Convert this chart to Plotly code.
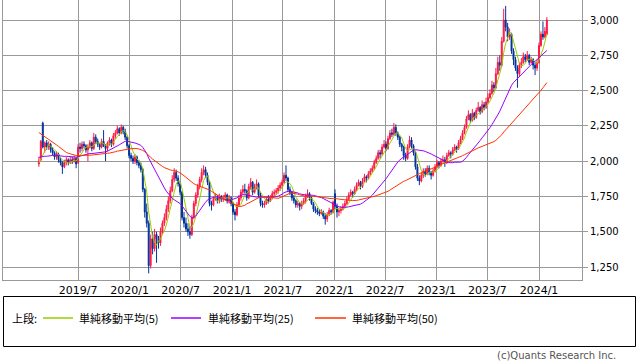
import numpy as np
import pandas as pd
import plotly.graph_objects as go

# ---------------- data (weekly OHLC) ----------------
start_date = "2019-02-11"

opens = [
    1980, 2010, 2270, 2100, 2130, 2100, 2120, 2080, 2060, 2030,
    2050, 2010, 1990, 1960, 1990, 2010, 1990, 2010, 2000, 2020,
    1990, 2100, 2090, 2120, 2110, 2080, 2100, 2130, 2090, 2170,
    2140, 2120, 2100, 2140, 2110, 2090, 2130, 2150, 2120, 2180,
    2200, 2230, 2200, 2240, 2210, 2170, 2110, 2040, 2020, 2000,
    2030, 1990, 1970, 1940, 1800, 1640, 1560, 1260, 1450, 1380,
    1480, 1450, 1420, 1500, 1560, 1600, 1660, 1720, 1790, 1870,
    1920, 1880, 1840, 1780, 1600, 1560, 1520, 1500, 1480, 1600,
    1700, 1760, 1820, 1870, 1920, 1940, 1900, 1850, 1700, 1690,
    1730, 1740, 1720, 1750, 1730, 1740, 1760, 1720, 1740, 1700,
    1640, 1620, 1690, 1740, 1780, 1800, 1790, 1740, 1820, 1850,
    1780, 1820, 1840, 1760, 1700, 1690, 1700, 1730, 1720, 1740,
    1770, 1780, 1790, 1810, 1830, 1850, 1900, 1880, 1800, 1780,
    1740, 1720, 1690, 1700, 1680, 1700, 1720, 1750, 1770, 1740,
    1700, 1660, 1650, 1640, 1630, 1640, 1610, 1590, 1620, 1650,
    1640, 1770, 1680, 1640, 1650, 1660, 1680, 1700, 1730, 1760,
    1780, 1770, 1800, 1830, 1850, 1820, 1860, 1890, 1880, 1910,
    1930, 1950, 1990, 2020, 2060, 2050, 2100, 2120, 2090, 2160,
    2200, 2190, 2240, 2200, 2170, 2120, 2100, 2040, 2020, 2100,
    2150, 2110, 2060, 1960, 1880, 1860, 1900, 1930, 1910, 1950,
    1920, 1900, 1930, 1960, 1990, 1970, 2000, 2010, 1990, 2040,
    2060, 2050, 2080, 2100, 2090, 2130, 2160, 2200, 2240, 2300,
    2330, 2290, 2340, 2310, 2360, 2380, 2350, 2400, 2380, 2420,
    2450, 2480, 2540, 2520, 2620, 2700, 2680, 2850, 3000, 2950,
    2880, 2900, 2780, 2720, 2660, 2620, 2680, 2700, 2740, 2720,
    2750, 2700, 2720, 2680, 2660, 2700, 2820, 2900, 2880, 2900,
]

highs = [
    2030, 2150, 2280, 2140, 2150, 2140, 2130, 2100, 2070, 2070,
    2060, 2030, 2000, 2010, 2030, 2020, 2030, 2030, 2040, 2030,
    2120, 2130, 2140, 2140, 2120, 2120, 2150, 2140, 2200, 2190,
    2160, 2130, 2160, 2220, 2120, 2140, 2170, 2160, 2200, 2220,
    2250, 2240, 2260, 2250, 2230, 2180, 2120, 2060, 2040, 2050,
    2040, 2010, 1990, 1950, 1810, 1700, 1580, 1480, 1500, 1520,
    1500, 1470, 1530, 1580, 1630, 1690, 1750, 1820, 1900, 1950,
    1940, 1900, 1860, 1790, 1640, 1600, 1560, 1540, 1620, 1720,
    1780, 1840, 1890, 1950, 1970, 1960, 1920, 1860, 1720, 1750,
    1770, 1760, 1770, 1760, 1760, 1780, 1770, 1760, 1750, 1710,
    1660, 1710, 1760, 1800, 1830, 1840, 1800, 1840, 1880, 1860,
    1840, 1870, 1850, 1780, 1720, 1720, 1750, 1760, 1760, 1790,
    1800, 1810, 1830, 1850, 1870, 1920, 1970, 1890, 1820, 1790,
    1760, 1730, 1720, 1710, 1720, 1740, 1770, 1800, 1780, 1750,
    1710, 1680, 1670, 1660, 1660, 1650, 1630, 1640, 1670, 1660,
    1720, 1800, 1700, 1670, 1680, 1700, 1720, 1750, 1780, 1800,
    1790, 1820, 1850, 1870, 1860, 1880, 1910, 1900, 1930, 1950,
    1970, 2010, 2040, 2080, 2080, 2120, 2150, 2140, 2180, 2220,
    2230, 2270, 2260, 2210, 2180, 2130, 2110, 2060, 2120, 2180,
    2170, 2120, 2070, 1980, 1900, 1920, 1950, 1950, 1970, 1970,
    1930, 1950, 1980, 2010, 2000, 2020, 2040, 2030, 2060, 2080,
    2070, 2100, 2120, 2110, 2150, 2180, 2220, 2260, 2320, 2360,
    2340, 2370, 2350, 2380, 2420, 2390, 2430, 2420, 2450, 2480,
    2510, 2570, 2560, 2660, 2740, 2750, 2880, 3080, 3100, 2980,
    2940, 2910, 2800, 2740, 2680, 2700, 2730, 2770, 2760, 2780,
    2760, 2740, 2730, 2700, 2720, 2840, 2920, 2990, 2950, 3020,
]

lows = [
    1960, 2000, 2090, 2060, 2080, 2080, 2060, 2040, 2010, 2010,
    1990, 1970, 1910, 1950, 1970, 1970, 1980, 1980, 1990, 1950,
    1980, 2060, 2070, 2090, 2060, 2000, 2090, 2070, 2080, 2120,
    2100, 2080, 2090, 2100, 2000, 2070, 2110, 2100, 2110, 2160,
    2190, 2180, 2190, 2190, 2150, 2090, 2020, 2000, 1980, 1980,
    1970, 1950, 1920, 1780, 1600, 1530, 1205, 1240, 1340, 1360,
    1280, 1380, 1400, 1480, 1540, 1580, 1640, 1700, 1780, 1850,
    1860, 1820, 1760, 1580, 1530, 1500, 1470, 1450, 1470, 1590,
    1680, 1740, 1800, 1850, 1900, 1880, 1830, 1680, 1650, 1680,
    1720, 1700, 1700, 1710, 1710, 1720, 1700, 1700, 1680, 1620,
    1580, 1610, 1680, 1720, 1760, 1770, 1720, 1730, 1800, 1760,
    1770, 1800, 1740, 1680, 1670, 1670, 1690, 1700, 1710, 1730,
    1750, 1760, 1770, 1790, 1810, 1840, 1860, 1780, 1760, 1720,
    1700, 1670, 1670, 1650, 1660, 1690, 1700, 1740, 1720, 1690,
    1640, 1630, 1620, 1610, 1620, 1590, 1550, 1570, 1610, 1620,
    1630, 1660, 1600, 1610, 1630, 1650, 1670, 1690, 1720, 1750,
    1740, 1760, 1790, 1820, 1800, 1810, 1850, 1850, 1870, 1900,
    1920, 1940, 1980, 2010, 2020, 2040, 2090, 2070, 2080, 2150,
    2170, 2180, 2180, 2150, 2100, 2070, 2010, 2000, 2010, 2090,
    2090, 2040, 1940, 1860, 1830, 1850, 1880, 1890, 1900, 1900,
    1870, 1890, 1920, 1950, 1950, 1960, 1990, 1960, 1980, 2030,
    2020, 2040, 2070, 2060, 2080, 2120, 2150, 2190, 2230, 2290,
    2270, 2280, 2290, 2300, 2350, 2330, 2340, 2360, 2370, 2410,
    2440, 2470, 2490, 2510, 2610, 2640, 2670, 2840, 2920, 2850,
    2860, 2760, 2680, 2640, 2520, 2600, 2660, 2690, 2700, 2710,
    2680, 2690, 2650, 2610, 2640, 2690, 2810, 2860, 2870, 2890,
]

closes = [
    2000, 2140, 2100, 2130, 2100, 2120, 2080, 2060, 2030, 2050,
    2010, 1990, 1960, 1990, 2010, 1990, 2010, 2000, 2020, 1980,
    2100, 2090, 2120, 2110, 2080, 2100, 2130, 2090, 2170, 2140,
    2120, 2100, 2140, 2110, 2090, 2130, 2150, 2120, 2180, 2200,
    2230, 2200, 2240, 2210, 2170, 2110, 2040, 2020, 2000, 2030,
    1990, 1970, 1940, 1800, 1640, 1560, 1260, 1450, 1380, 1480,
    1450, 1420, 1500, 1560, 1600, 1660, 1720, 1790, 1870, 1920,
    1880, 1840, 1780, 1600, 1560, 1520, 1500, 1480, 1600, 1700,
    1760, 1820, 1870, 1920, 1940, 1900, 1850, 1700, 1690, 1730,
    1740, 1720, 1750, 1730, 1740, 1760, 1720, 1740, 1700, 1640,
    1620, 1690, 1740, 1780, 1800, 1790, 1740, 1820, 1850, 1780,
    1820, 1840, 1760, 1700, 1690, 1700, 1730, 1720, 1740, 1770,
    1780, 1790, 1810, 1830, 1850, 1900, 1880, 1800, 1780, 1740,
    1720, 1690, 1700, 1680, 1700, 1720, 1750, 1770, 1740, 1700,
    1660, 1650, 1640, 1630, 1640, 1610, 1590, 1620, 1650, 1640,
    1710, 1680, 1640, 1650, 1660, 1680, 1700, 1730, 1760, 1780,
    1770, 1800, 1830, 1850, 1820, 1860, 1890, 1880, 1910, 1930,
    1950, 1990, 2020, 2060, 2050, 2100, 2120, 2090, 2160, 2200,
    2190, 2240, 2200, 2170, 2120, 2100, 2040, 2020, 2100, 2150,
    2110, 2060, 1960, 1880, 1860, 1900, 1930, 1910, 1950, 1920,
    1900, 1930, 1960, 1990, 1970, 2000, 2010, 1990, 2040, 2060,
    2050, 2080, 2100, 2090, 2130, 2160, 2200, 2240, 2300, 2330,
    2290, 2340, 2310, 2360, 2380, 2350, 2400, 2380, 2420, 2450,
    2480, 2540, 2520, 2620, 2700, 2680, 2850, 3000, 2950, 2880,
    2900, 2780, 2720, 2660, 2620, 2680, 2700, 2740, 2720, 2750,
    2700, 2720, 2680, 2660, 2700, 2820, 2900, 2880, 2920, 3000,
]

# closes of the 49 weeks before the first visible candle (off-chart history
# needed so the moving averages start where the reference starts)
pre_closes = [
    2600, 2620, 2580, 2560, 2590, 2540, 2570, 2600, 2550, 2520, 2560, 2530, 2510, 2490,
    2300, 2250, 2200, 2180, 2150, 2120, 2100, 2080, 2110, 2090, 2060,
    2050, 2080, 2060, 2100, 2040, 2020, 2060, 2030, 2000, 2050, 2070, 2040, 2010,
    1980, 2020, 2060, 2040, 2000, 2030, 2010, 1990, 1970, 2000, 1980,
]

ma_periods = [5, 25, 50]
ma_names = ["単純移動平均(5)", "単純移動平均(25)", "単純移動平均(50)"]
ma_colors = ["#99cc00", "#9900ff", "#ff3300"]

y_ticks = [1250, 1500, 1750, 2000, 2250, 2500, 2750, 3000]
x_tick_dates = ["2019-07-01", "2020-01-01", "2020-07-01", "2021-01-01", "2021-07-01",
                "2022-01-01", "2022-07-01", "2023-01-01", "2023-07-01", "2024-01-01"]
x_tick_labels = ["2019/7", "2020/1", "2020/7", "2021/1", "2021/7",
                 "2022/1", "2022/7", "2023/1", "2023/7", "2024/1"]

UP = "#ff1744"
DOWN = "#003399"

# ---------------- figure ----------------
n = len(closes)
dates = pd.date_range(start_date, periods=n, freq="7D")
all_close = pd.Series(pre_closes + closes)

fig = go.Figure()
fig.add_trace(go.Candlestick(
    x=dates, open=opens, high=highs, low=lows, close=closes,
    increasing=dict(line=dict(color=UP, width=1), fillcolor=UP),
    decreasing=dict(line=dict(color=DOWN, width=1), fillcolor=DOWN),
    whiskerwidth=0, showlegend=False, hoverinfo="skip",
))
for p, name, col in zip(ma_periods, ma_names, ma_colors):
    ma = all_close.rolling(p).mean().iloc[len(pre_closes):].to_numpy()
    fig.add_trace(go.Scatter(x=dates, y=ma, mode="lines", name=name,
                             line=dict(color=col, width=1), showlegend=False,
                             hoverinfo="skip"))

W, H = 638, 362
L, R, T, B = 3, 582, 0, 280
pw, ph = R - L, B - T


def px(x):
    return (x - L) / pw


def py(y):
    return (B - y) / ph


shapes = [
    dict(type="rect", xref="paper", yref="paper", x0=px(3.5), x1=px(635.5),
         y0=py(296.5), y1=py(346.5), line=dict(color="#000000", width=1)),
]
annotations = [
    dict(text="上段:", x=px(10), y=py(318), xref="paper", yref="paper",
         xanchor="left", yanchor="middle", showarrow=False,
         font=dict(family="Noto Sans CJK JP", size=11, color="#000000")),
    dict(text="(c)Quants Research Inc.", x=px(618), y=py(355), xref="paper", yref="paper",
         xanchor="right", yanchor="middle", showarrow=False,
         font=dict(family="DejaVu Sans", size=10, color="#555555")),
]
leg_lines = [(43, 73), (171, 201), (315, 346)]
leg_text_x = [77, 206, 350]
for (a, b), tx, name, col in zip(leg_lines, leg_text_x, ma_names, ma_colors):
    shapes.append(dict(type="line", xref="paper", yref="paper", x0=px(a), x1=px(b),
                       y0=py(318), y1=py(318), line=dict(color=col, width=1.5)))
    annotations.append(dict(text=name, x=px(tx), y=py(318), xref="paper", yref="paper",
                            xanchor="left", yanchor="middle", showarrow=False,
                            font=dict(family="Noto Sans CJK JP", size=11, color="#000000")))

fig.update_layout(
    width=W, height=H,
    margin=dict(l=L, r=W - R, t=T, b=H - B),
    paper_bgcolor="white", plot_bgcolor="white",
    shapes=shapes, annotations=annotations,
    showlegend=False, hovermode=False,
    xaxis=dict(
        type="date", range=["2018-10-06", "2024-06-02 10:00"],
        tickvals=x_tick_dates, ticktext=x_tick_labels,
        showgrid=True, gridcolor="#999999", gridwidth=1,
        showline=True, linecolor="#999999", linewidth=1, mirror=True,
        ticks="", tickfont=dict(family="DejaVu Sans", size=11, color="#000000"),
        rangeslider=dict(visible=False), zeroline=False,
    ),
    yaxis=dict(
        side="right", range=[1158, 3142],
        tickvals=y_ticks, tickformat=",d",
        showgrid=True, gridcolor="#999999", gridwidth=1,
        showline=True, linecolor="#999999", linewidth=1, mirror=True,
        ticks="outside", ticklen=5, tickcolor="#999999",
        tickfont=dict(family="DejaVu Sans", size=10, color="#000000"),
        zeroline=False,
    ),
)

fig.write_html("out.html", config={"displayModeBar": False, "staticPlot": True},
               post_script="document.body.style.margin='0';")
